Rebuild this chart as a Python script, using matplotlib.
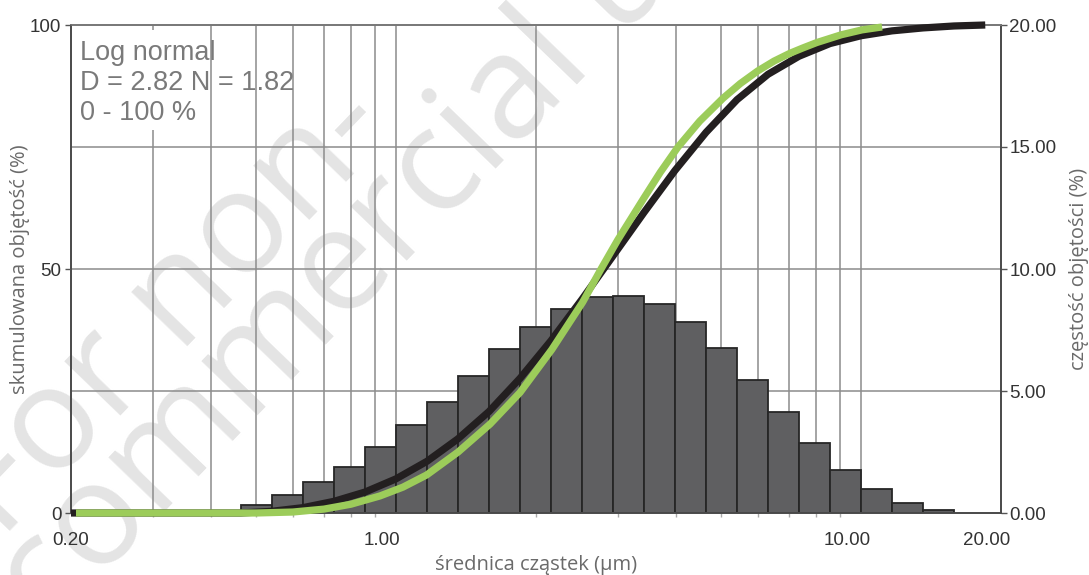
import matplotlib
matplotlib.use("Agg")
import matplotlib.pyplot as plt
import matplotlib.transforms as mtransforms
from matplotlib.patches import Rectangle

# histogram bins (um), volume frequency per bin (%)
bin_edges = [0.464, 0.541, 0.631, 0.736, 0.858, 1.0, 1.166, 1.359, 1.585, 1.848,
             2.154, 2.512, 2.929, 3.415, 3.981, 4.642, 5.412, 6.310, 7.356, 8.577,
             10.0, 11.66, 13.59, 15.85]
freq_pct = [0.33, 0.74, 1.28, 1.90, 2.72, 3.59, 4.53, 5.61, 6.71, 7.64, 8.38, 8.85,
            8.91, 8.57, 7.84, 6.75, 5.45, 4.13, 2.86, 1.76, 0.97, 0.40, 0.12]

# measured cumulative volume (black)
cum_x = [0.2, 0.464, 0.541, 0.631, 0.736, 0.858, 1.0, 1.166, 1.359, 1.585, 1.848,
         2.154, 2.512, 2.929, 3.415, 3.981, 4.642, 5.412, 6.310, 7.356, 8.577,
         10.0, 11.66, 13.59, 15.85, 18.5]
cum_pct = [0, 0, 0.35, 1.1, 2.4, 4.3, 7.0, 10.6, 15.2, 20.8, 27.6, 35.3, 43.8, 52.7,
           61.6, 70.2, 78.0, 84.7, 89.9, 93.6, 96.2, 97.8, 98.8, 99.4, 99.8, 100]

# log normal fit (green)
fit_x = [0.205, 0.5, 0.6, 0.7, 0.8, 0.924, 1.035, 1.164, 1.36, 1.592, 1.848, 2.163,
         2.52, 2.76, 3.0, 3.4, 3.7, 4.04, 4.5, 5.05, 5.5, 6.0, 6.5, 7.03, 7.5, 8.03,
         9.07, 10.05, 11.1]
fit_pct = [0, 0, 0.2, 0.8, 1.8, 3.5, 5.3, 7.8, 12.5, 18.2, 24.7, 33.5, 43.2, 50.0,
           56.0, 64.3, 69.8, 75.0, 80.3, 85.0, 88.0, 90.6, 92.6, 94.2, 95.3, 96.4,
           98.0, 99.0, 99.6]

x_ticks = [0.2, 1.0, 10.0, 20.0]
x_tick_labels = ["0.20", "1.00", "10.00", "20.00"]
x_grid = [0.3, 0.4, 0.5, 0.6, 0.7, 0.8, 0.9, 1, 2, 3, 4, 5, 6, 7, 8, 9, 10]
left_ticks = [0, 50, 100]
right_ticks = [0, 5, 10, 15, 20]
right_tick_labels = ["0.00", "5.00", "10.00", "15.00", "20.00"]
info_lines = ["Log normal", "D = 2.82 N = 1.82", "0 - 100 %"]

W, H = 1089, 575
GRID = "#8c8c8c"
BAR = "#5f5f61"
BLACK = "#231f20"
GREEN = "#9ccc5a"
LABEL = "#6a6a6a"
TICK = "#333333"
OPEN = ["Open Sans", "DejaVu Sans"]

plt.rcParams["font.family"] = ["Liberation Sans", "DejaVu Sans"]

fig = plt.figure(figsize=(W / 100, H / 100), dpi=100)
fig.patch.set_facecolor("white")

# watermark
for txt, (px, py) in zip(["For non-", "commercial use"], [(0, 540), (48, 632)]):
    fig.text(px / W, 1 - py / H, txt, rotation=46, rotation_mode="anchor",
             ha="left", va="baseline", fontsize=104, color="#e4e4e4",
             family=OPEN, zorder=-1)

ax = fig.add_axes([71 / W, 1 - 513 / H, 930 / W, 488 / H])
ax_cum = ax.twinx()   # cumulative axis, drawn above the bars

ax.set_facecolor("none")
ax.set_xscale("log")
ax.set_xlim(0.2, 20)
ax.set_ylim(0, 20)

for xv in x_grid:
    ax.axvline(xv, color=GRID, lw=1.1, zorder=0)
for yv in right_ticks[1:-1]:
    ax.axhline(yv, color=GRID, lw=1.1, zorder=0)

widths = [b - a for a, b in zip(bin_edges[:-1], bin_edges[1:])]
ax.bar(bin_edges[:-1], freq_pct, width=widths, align="edge", color=BAR,
       edgecolor="#262626", linewidth=1.3, zorder=2)

ax.yaxis.tick_right()
ax.yaxis.set_label_position("right")
ax.set_yticks(right_ticks, right_tick_labels)
ax.tick_params(axis="y", direction="out", length=4, width=1, color="#555555",
               labelsize=13.5, labelcolor=TICK, pad=2)
ax.set_ylabel("częstość objętości (%)", family=OPEN, fontsize=14.5,
              color=LABEL, labelpad=9)

ax.set_xticks(x_ticks, x_tick_labels)
ax.set_xticks(x_grid, minor=True)
ax.xaxis.set_minor_formatter(plt.NullFormatter())
ax.tick_params(axis="x", which="major", direction="out", length=0,
               labelsize=13.5, labelcolor=TICK, pad=14)
ax.tick_params(axis="x", which="minor", direction="out", length=3, width=1,
               color="#aaaaaa")
shift = mtransforms.ScaledTranslation(-0.14, 0, fig.dpi_scale_trans)
for tick in ax.xaxis.get_major_ticks()[1:]:
    tick.label1.set_transform(tick.label1.get_transform() + shift)
ax.set_xlabel("średnica cząstek (µm)", family=OPEN, fontsize=14.5,
              color=LABEL, labelpad=4)

for name, sp in ax.spines.items():
    sp.set_color("#4a4a4a" if name != "top" else "#777777")
    sp.set_linewidth(1.4)

# info box
ax.add_patch(Rectangle((0.004, 0.785), 0.14, 0.205, transform=ax.transAxes,
                       facecolor="white", edgecolor="none", zorder=1))
for i, line in enumerate(info_lines):
    ax.text(0.0097, (513 - 60 - 30 * i) / 488, line, transform=ax.transAxes,
            fontsize=19.5, color="#7a7a7a", ha="left", va="baseline", zorder=3)

ax_cum.set_ylim(0, 100)
ax_cum.yaxis.tick_left()
ax_cum.yaxis.set_label_position("left")
ax_cum.set_yticks(left_ticks)
ax_cum.tick_params(axis="y", direction="out", length=4, width=1, color="#555555",
                   labelsize=13.5, labelcolor=TICK, pad=3)
ax_cum.set_ylabel("skumulowana objętość (%)", family=OPEN, fontsize=14.5,
                  color=LABEL, labelpad=0)
for sp in ax_cum.spines.values():
    sp.set_visible(False)

ax_cum.plot(cum_x, cum_pct, color=BLACK, lw=5.2, solid_capstyle="butt",
            solid_joinstyle="round", clip_on=False, zorder=3)
ax_cum.plot(fit_x, fit_pct, color=GREEN, lw=5.2, solid_capstyle="butt",
            solid_joinstyle="round", clip_on=False, zorder=4)

fig.savefig("out.png", dpi=100)
